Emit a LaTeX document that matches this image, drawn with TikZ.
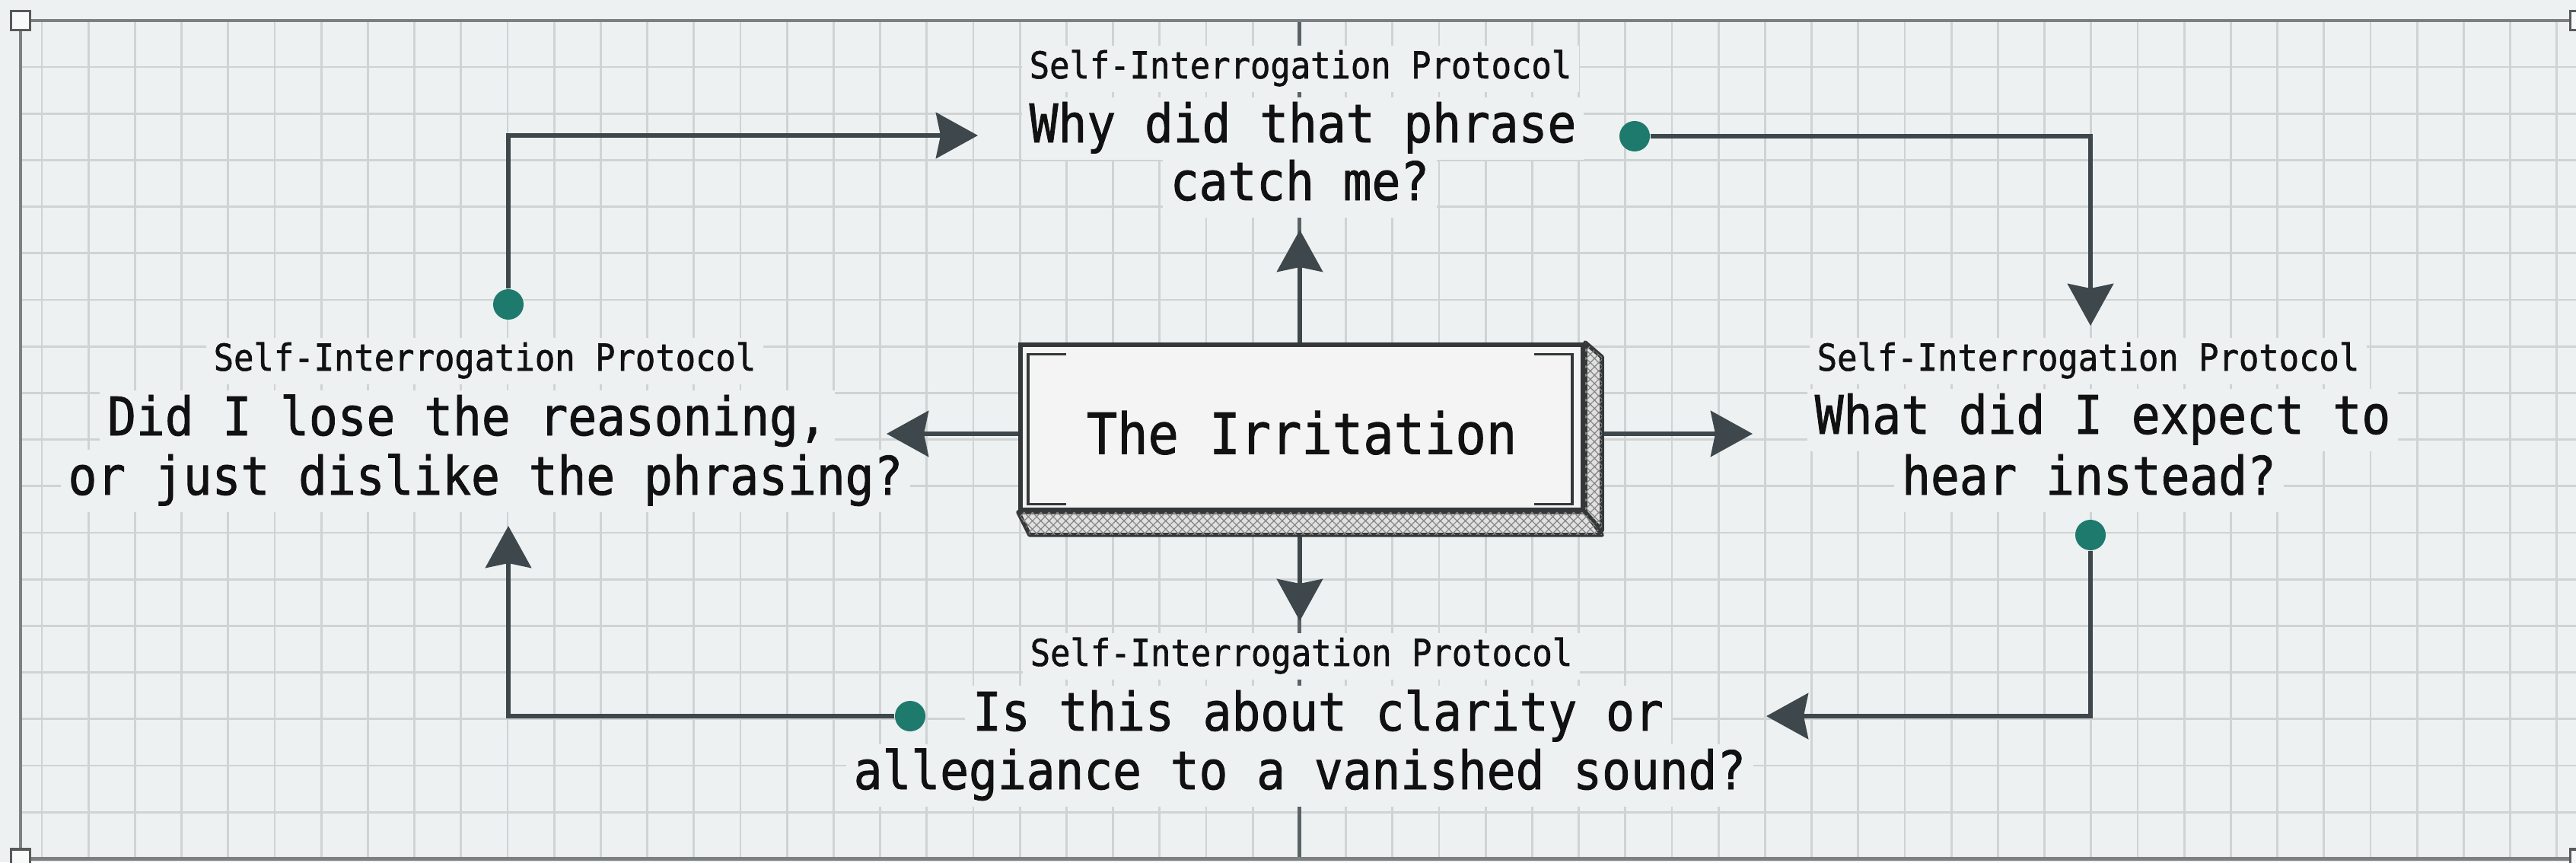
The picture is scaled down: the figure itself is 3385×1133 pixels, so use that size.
\documentclass[tikz,border=0pt]{standalone}
\usepackage{fontspec}
\usetikzlibrary{arrows.meta,patterns.meta,positioning}

\newfontfamily\qmono[FakeStretch=0.9, FakeBold=1.2]{DejaVu Sans Mono}

\definecolor{paper}{HTML}{EEF1F1}
\definecolor{gridc}{HTML}{CFD3D4}
\definecolor{axisc}{HTML}{5A6266}
\definecolor{framec}{HTML}{7C8081}
\definecolor{linkc}{HTML}{3D474C}
\definecolor{dotc}{HTML}{1E7A6D}
\definecolor{inkc}{HTML}{111111}
\definecolor{boxc}{HTML}{353839}
\definecolor{facec}{HTML}{F3F4F3}

\begin{document}
\begin{tikzpicture}[x=0.01cm, y=-0.01cm, line join=miter,
	gridline/.style={draw=gridc, line width=0.8pt},
	axisline/.style={draw=axisc, line width=1.4pt},
	frameline/.style={draw=framec, line width=1.2pt},
	handle/.style={draw=framec!70!black, fill=paper!40!white, line width=1pt, minimum size=0.25cm, inner sep=0pt},
	tag/.style={font={\qmono\fontsize{13.85pt}{16pt}\selectfont}, text=inkc, fill=paper, anchor=base, inner xsep=1mm, inner ysep=0.6mm, text height=3.7mm, text depth=1.2mm},
	ask/.style={font={\qmono\fontsize{19.85pt}{22pt}\selectfont}, text=inkc, fill=paper, anchor=base, inner xsep=1mm, inner ysep=0.6mm, text height=5.3mm, text depth=1.7mm},
	irrbox/.style={draw=boxc, fill=facec, line width=1.6pt, minimum width=7.39cm, minimum height=2.17cm, inner sep=0pt, font={\qmono\fontsize{21.2pt}{24pt}\selectfont}, text=inkc, text height=7.1mm},
	sideface/.style={draw=boxc, line width=1.6pt, line join=round, fill=black!12, postaction={pattern={Hatch[angle=45, distance=2.2pt, line width=0.35pt]}, pattern color=black!48}},
	bracket/.style={draw=boxc, line width=0.9pt},
	flow/.style={draw=linkc, line width=1.8pt, -{Stealth[length=5.5mm, width=6mm, inset=0.6mm]}},
	dot/.style={circle, fill=dotc, minimum size=0.4cm, inner sep=0pt}]

	\useasboundingbox (0,0) rectangle (3385,1133);
	\fill[paper] (0,0) rectangle (3385,1133);

	% squared paper
	\foreach \k in {0,...,54}
		\draw[gridline] ({55+61.2*\k},26.8) -- ({55+61.2*\k},1128.4);
	\foreach \k in {1,...,17}
		\draw[gridline] (27,{26.8+61.2*\k}) -- (3385,{26.8+61.2*\k});
	\draw[axisline] (1707.4,26.8) -- (1707.4,1128.4);

	% selection frame
	\draw[frameline] (3392,26.8) -- (27,26.8) -- (27,1128.4) -- (3392,1128.4);
	\node[handle] (hd-tl) at (27,26.8) {};
	\node[handle] (hd-bl) at (27,1128.4) {};
	\node[handle] (hd-tr) at (3390,26.8) {};
	\node[handle] (hd-br) at (3390,1128.4) {};

	% questions
	\node[tag] (top-tag) at (1709,103) {Self-Interrogation Protocol};
	\node[ask] (top-l1) at (1712,187) {Why did that phrase};
	\node[ask] (top-l2) at (1708,263) {catch me?};

	\node[tag] (left-tag) at (637,487) {Self-Interrogation Protocol};
	\node[ask] (left-l1) at (614,572) {Did I lose the reasoning,};
	\node[ask] (left-l2) at (638,650) {or just dislike the phrasing?};

	\node[tag] (right-tag) at (2744,487) {Self-Interrogation Protocol};
	\node[ask] (right-l1) at (2763,570) {What did I expect to};
	\node[ask] (right-l2) at (2745,650) {hear instead?};

	\node[tag] (bot-tag) at (1710,875) {Self-Interrogation Protocol};
	\node[ask] (bot-l1) at (1732,960) {Is this about clarity or};
	\node[ask] (bot-l2) at (1708,1037) {allegiance to a vanished sound?};

	% arrow ends
	\coordinate (tip-n) at (1708,302);
	\coordinate (tip-s) at (1708,816);
	\coordinate (tip-w) at (1165,570);
	\coordinate (tip-e) at (2303,570);
	\coordinate (tip-nw) at (1285,178);
	\coordinate (tip-ne) at (2747,428);
	\coordinate (tip-se) at (2321,941);
	\coordinate (tip-sw) at (668,691);

	% the centre block
	\node[irrbox] (irr) at (1710.5,561.5) {The Irritation};
	\draw[flow] (tip-n |- irr.north) -- (tip-n);
	\draw[flow] ([yshift=-3mm]irr.south -| tip-s) -- (tip-s);
	\draw[flow] (irr.west |- tip-w) -- (tip-w);
	\draw[flow] ([xshift=2.2mm]irr.east |- tip-e) -- (tip-e);
	\path[sideface] (irr.north east) -- ++(22,19) -- ++(0,228) -- (irr.south east) -- cycle;
	\path[sideface] (irr.south west) -- (irr.south east) -- ++(22,30) -- ([shift={(15,30)}]irr.south west) -- cycle;
	\draw[bracket] ([shift={(63,15)}]irr.north west) -- ([shift={(13,15)}]irr.north west)
		-- ([shift={(13,-10)}]irr.south west) -- ([shift={(63,-10)}]irr.south west);
	\draw[bracket] ([shift={(-67,15)}]irr.north east) -- ([shift={(-17,15)}]irr.north east)
		-- ([shift={(-17,-10)}]irr.south east) -- ([shift={(-67,-10)}]irr.south east);

	% the loop round the questions
	\node[dot] (dot-w) at (668,400) {};
	\node[dot] (dot-n) at (2148,179) {};
	\node[dot] (dot-e) at (2747,703) {};
	\node[dot] (dot-s) at (1196,941) {};
	\draw[flow] (dot-w) |- (tip-nw);
	\draw[flow] (dot-n) -| (tip-ne);
	\draw[flow] (dot-e) |- (tip-se);
	\draw[flow] (dot-s) -| (tip-sw);

\end{tikzpicture}
\end{document}
